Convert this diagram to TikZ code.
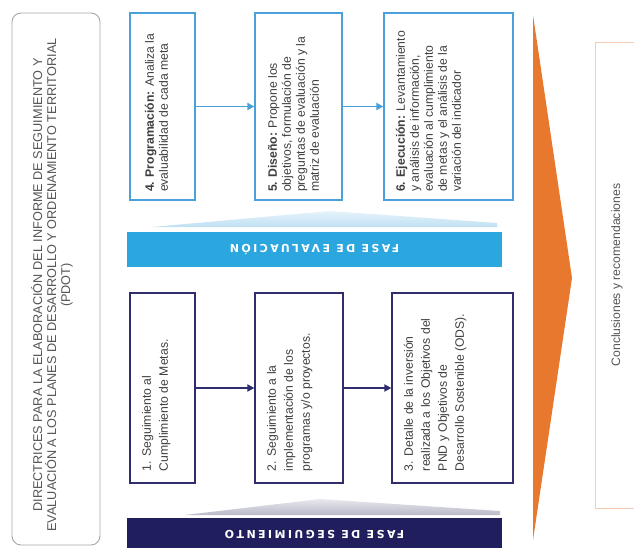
\documentclass[tikz,border=0pt]{standalone}
\usepackage{fontspec}
\setmainfont{Liberation Sans}
\newfontfamily\barfont[LetterSpace=22]{DejaVu Sans}
\usetikzlibrary{arrows.meta}
\definecolor{evalline}{HTML}{4AA0D8}
\definecolor{evalbar}{HTML}{2BA6DF}
\definecolor{segline}{HTML}{2F2D6E}
\definecolor{segbar}{HTML}{201E5C}
\definecolor{orangec}{HTML}{E8782E}
\definecolor{peach}{HTML}{F6CDB0}
\definecolor{titleline}{HTML}{A8A8A8}
\definecolor{textc}{HTML}{3F3F3F}
\definecolor{greytext}{HTML}{555555}
\definecolor{bluewedgeA}{HTML}{E6F3FB}
\definecolor{bluewedgeB}{HTML}{BFE0F3}
\definecolor{greywedgeA}{HTML}{E8E8EE}
\definecolor{greywedgeB}{HTML}{B9B9C9}
\newcommand\etextfont{\fontsize{12.2}{14}\selectfont\color{textc}}
\newcommand\stextfont{\fontsize{12.2}{17}\selectfont\color{textc}}
\tikzset{
  ebox/.style={draw=evalline, line width=1.2pt, fill=white, rotate=90, inner sep=0pt, minimum width=187pt},
  sbox/.style={draw=segline, line width=1.2pt, fill=white, rotate=90, inner sep=0pt, minimum width=190pt},
  barnode/.style={rotate=180, inner sep=0pt, minimum width=375pt, text=white,
     font=\barfont\bfseries\fontsize{11}{13}\selectfont},
  earrow/.style={draw=evalline, line width=1.8pt, -{Triangle[length=7pt,width=7pt]}},
  sarrow/.style={draw=segline, line width=2pt, -{Triangle[length=7pt,width=7pt]}},
  titlebox/.style={draw=titleline, line width=0.9pt, rounded corners=9pt, rotate=90, inner sep=0pt,
     minimum width=532pt, minimum height=88pt},
  cbox/.style={draw=peach, line width=0.8pt, rotate=90, inner sep=0pt, minimum width=466pt,
     minimum height=44pt, text=greytext, font=\fontsize{12.2}{14}\selectfont}
}
\begin{document}
\begin{tikzpicture}[x=1pt,y=-1pt]
\useasboundingbox (0,0) rectangle (634,548);
\clip (0,0) rectangle (634,548);
\fill[white] (0,0) rectangle (634,548);

% title box
\node[titlebox] (title) at (56,279)
  {\parbox[c][76pt][c]{524pt}{\centering\rightskip=12pt plus 1fil
   \fontsize{12.7}{14}\selectfont\color{greytext}
   DIRECTRICES PARA LA ELABORACIÓN DEL INFORME DE SEGUIMIENTO Y\\
   EVALUACIÓN A LOS PLANES DE DESARROLLO Y ORDENAMIENTO TERRITORIAL\\
   (PDOT)\par\vspace{8pt}}};

% shadow wedges
\shade[top color=bluewedgeA, bottom color=bluewedgeB] (152,227) -- (330,211) -- (497,223) -- (497,227) -- cycle;
\shade[top color=greywedgeA, bottom color=greywedgeB] (185,515) -- (320,499) -- (500,511) -- (500,515) -- cycle;

% phase bars
\node[barnode, fill=evalbar, minimum height=35pt] (ebar) at (314.5,249.5) {FASE DE EVALUACIÓN};
\node[barnode, fill=segbar, minimum height=32pt] (sbar) at (314.5,534) {FASE DE SEGUIMIENTO};

% orange arrow
\fill[orangec] (533,15) -- (572,278) -- (533,540) -- cycle;

% evaluation boxes
\node[ebox, minimum height=65pt] (b4) at (162.5,106.5)
  {\parbox[c][35pt][t]{171pt}{\etextfont\raggedright
   \textbf{4. Programación:} Analiza la\\evaluabilidad de cada meta}};
\node[ebox, minimum height=87pt] (b5) at (298.5,106.5)
  {\parbox[c][61pt][t]{171pt}{\etextfont\raggedright
   \textbf{5. Diseño:} Propone los\\objetivos, formulación de\\preguntas de evaluación y la\\matriz de evaluación}};
\node[ebox, minimum height=129pt] (b6) at (448.5,106.5)
  {\parbox[c][105pt][t]{171pt}{\etextfont\raggedright
   \textbf{6. Ejecución:} Levantamiento\\y análisis de información,\\evaluación al cumplimiento\\de metas y el análisis de la\\variación del indicador}};

% follow-up boxes
\node[sbox, minimum height=65pt] (b1) at (162.5,388)
  {\parbox[c][41pt][t]{166pt}{\stextfont\raggedright
   1. Seguimiento al\\Cumplimiento de Metas.}};
\node[sbox, minimum height=88pt] (b2) at (299,388)
  {\parbox[c][64pt][t]{166pt}{\stextfont\raggedright
   2. Seguimiento a la\\implementación de los\\programas y/o proyectos.}};
\node[sbox, minimum height=121pt] (b3) at (452.5,388)
  {\parbox[c][97pt][t]{166pt}{\stextfont\raggedright
   3. Detalle de la inversión\\realizada a los Objetivos del\\PND y Objetivos de\\Desarrollo Sostenible (ODS).}};

% conclusions
\node[cbox] (concl) at (617,275) {Conclusiones y recomendaciones};

% connectors
\draw[earrow] (b4.south) -- (b5.north);
\draw[earrow] (b5.south) -- (b6.north);
\draw[sarrow] (b1.south) -- (b2.north);
\draw[sarrow] (b2.south) -- (b3.north);
\end{tikzpicture}
\end{document}
